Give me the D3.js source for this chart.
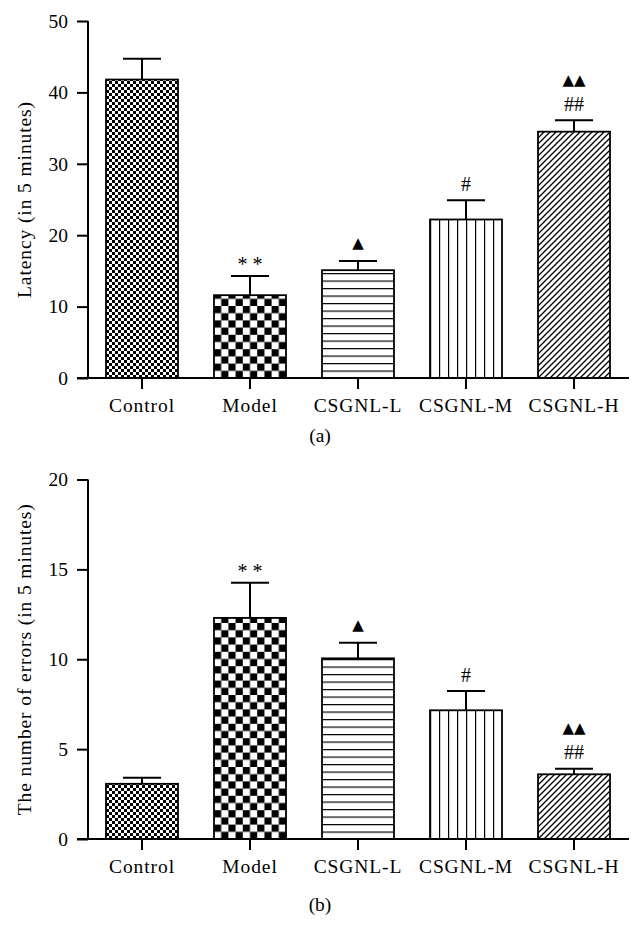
<!DOCTYPE html>
<html><head><meta charset="utf-8">
<script src="https://cdn.jsdelivr.net/npm/d3@7"></script>
<style>
html,body{margin:0;padding:0;background:#fff;}
text{fill:#000;}
</style></head>
<body>
<svg id="chart" width="643" height="949"></svg>
<script>
const categories = ["Control","Model","CSGNL-L","CSGNL-M","CSGNL-H"];
const latencyMeans = [41.8, 11.6, 15.1, 22.2, 34.5];
const latencyErrors = [2.9, 2.7, 1.3, 2.7, 1.6];
const latencyMarks = ["", "* *", "▲", "#", "##|▲▲"];
const latencyTicks = [0, 10, 20, 30, 40, 50];
const errorMeans = [3.07, 12.3, 10.05, 7.16, 3.6];
const errorErrors = [0.34, 1.96, 0.87, 1.07, 0.31];
const errorMarks = ["", "* *", "▲", "#", "##|▲▲"];
const errorTicks = [0, 5, 10, 15, 20];

const SERIF = "Liberation Serif, Times New Roman, serif";
const svg = d3.select("#chart");
const defs = svg.append("defs");

const patternKinds = ["fineChecker","coarseChecker","hlines","vlines","diag"];

function makePattern(id, kind, x0, y0) {
  let p;
  if (kind === "fineChecker") {
    p = defs.append("pattern").attr("id", id).attr("patternUnits","userSpaceOnUse")
      .attr("width",6).attr("height",6).attr("x",x0).attr("y",y0);
    p.append("rect").attr("width",6).attr("height",6).attr("fill","#fff");
    p.append("rect").attr("width",3).attr("height",3).attr("fill","#000");
    p.append("rect").attr("x",3).attr("y",3).attr("width",3).attr("height",3).attr("fill","#000");
  } else if (kind === "coarseChecker") {
    p = defs.append("pattern").attr("id", id).attr("patternUnits","userSpaceOnUse")
      .attr("width",14.4).attr("height",14.4).attr("x",x0).attr("y",y0);
    p.append("rect").attr("width",14.4).attr("height",14.4).attr("fill","#fff");
    p.append("rect").attr("width",7.2).attr("height",7.2).attr("fill","#000");
    p.append("rect").attr("x",7.2).attr("y",7.2).attr("width",7.2).attr("height",7.2).attr("fill","#000");
  } else if (kind === "hlines") {
    p = defs.append("pattern").attr("id", id).attr("patternUnits","userSpaceOnUse")
      .attr("width",10).attr("height",7.5).attr("x",x0).attr("y",y0);
    p.append("rect").attr("width",10).attr("height",7.5).attr("fill","#fff");
    p.append("line").attr("x1",0).attr("x2",10).attr("y1",0).attr("y2",0)
      .attr("stroke","#000").attr("stroke-width",2.4);
  } else if (kind === "vlines") {
    p = defs.append("pattern").attr("id", id).attr("patternUnits","userSpaceOnUse")
      .attr("width",9).attr("height",10).attr("x",x0).attr("y",y0);
    p.append("rect").attr("width",9).attr("height",10).attr("fill","#fff");
    p.append("line").attr("x1",0).attr("x2",0).attr("y1",0).attr("y2",10)
      .attr("stroke","#000").attr("stroke-width",2.4);
  } else {
    p = defs.append("pattern").attr("id", id).attr("patternUnits","userSpaceOnUse")
      .attr("width",6).attr("height",6).attr("x",x0).attr("y",y0);
    p.append("rect").attr("width",6).attr("height",6).attr("fill","#fff");
    p.append("path").attr("d","M0,6L6,0M-1,1L1,-1M5,7L7,5")
      .attr("stroke","#000").attr("stroke-width",1.3);
  }
}

// mark styling: font, size, distance of glyph centre above error cap, baseline offset from glyph centre
const markStyle = {
  "* *": {font: SERIF, size: 20, above: 14, shift: 9.5},
  "#":   {font: SERIF, size: 20, above: 15.5, shift: 6.5},
  "##":  {font: SERIF, size: 20, above: 16, shift: 6.5},
  "▲":   {font: "DejaVu Sans, sans-serif", size: 15, above: 17.5, shift: 5},
  "▲▲":  {font: "DejaVu Sans, sans-serif", size: 15, above: 40.5, shift: 5}
};

function drawPanel(opts) {
  const {means, errs, marks, ticks, yMax, yTop, yBottom, title, panelLabel, labelY, key} = opts;
  const g = svg.append("g");
  const x = d3.scaleBand().domain(categories).range([88, 628]).paddingInner(1/3).paddingOuter(1/6);
  const y = d3.scaleLinear().domain([0, yMax]).range([yBottom, yTop]);

  categories.forEach((c, i) => makePattern(key + i, patternKinds[i], x(c), y(0)));

  const eb = g.append("g").attr("stroke","#000").attr("stroke-width",2);
  categories.forEach((c, i) => {
    const cx = x(c) + x.bandwidth()/2;
    eb.append("line").attr("x1",cx).attr("x2",cx).attr("y1",y(means[i])).attr("y2",y(means[i]+errs[i]));
    eb.append("line").attr("x1",cx-19).attr("x2",cx+19).attr("y1",y(means[i]+errs[i])).attr("y2",y(means[i]+errs[i]));
  });

  g.selectAll("rect.bar").data(categories).enter().append("rect")
    .attr("class","bar")
    .attr("x", d => x(d)).attr("width", x.bandwidth())
    .attr("y", (d,i) => y(means[i])).attr("height", (d,i) => y(0) - y(means[i]))
    .attr("fill", (d,i) => `url(#${key}${i})`)
    .attr("stroke","#000").attr("stroke-width",1.8);

  const yAxis = d3.axisLeft(y).tickValues(ticks).tickSize(11).tickPadding(9).tickFormat(d3.format("d"));
  const ya = g.append("g").attr("transform","translate(88,0)").call(yAxis);
  ya.select(".domain").attr("stroke","#000").attr("stroke-width",2).attr("d",`M0,${yTop}V${yBottom}`);
  ya.selectAll(".tick line").attr("stroke","#000").attr("stroke-width",2);
  ya.selectAll(".tick text").attr("font-size",19.5).attr("font-family",SERIF).attr("fill","#000");

  const xAxis = d3.axisBottom(x).tickSize(11).tickPadding(0).tickSizeOuter(0);
  const xa = g.append("g").attr("transform",`translate(0,${yBottom})`).call(xAxis);
  xa.select(".domain").attr("stroke","#000").attr("stroke-width",2).attr("d","M77,0H629");
  xa.selectAll(".tick line").attr("stroke","#000").attr("stroke-width",2);
  xa.selectAll(".tick text").attr("font-size",19.5).attr("font-family",SERIF)
    .attr("letter-spacing",0.9).attr("fill","#000").attr("dy",null).attr("y",34);

  g.append("text").attr("transform",`translate(31,${(yTop+yBottom)/2}) rotate(-90)`)
    .attr("text-anchor","middle").attr("font-family",SERIF).attr("font-size",19.5)
    .attr("letter-spacing",0.9).text(title);

  g.append("text").attr("x",320).attr("y",labelY).attr("text-anchor","middle")
    .attr("font-family",SERIF).attr("font-size",19.5).text(panelLabel);

  categories.forEach((c, i) => {
    if (!marks[i]) return;
    const cx = x(c) + x.bandwidth()/2;
    const top = y(means[i] + errs[i]);
    marks[i].split("|").forEach(m => {
      const s = markStyle[m];
      g.append("text").attr("x",cx).attr("y",top - s.above + s.shift).attr("text-anchor","middle")
        .attr("font-family", s.font).attr("font-size", s.size).attr("fill","#000")
        .text(m);
    });
  });
}

drawPanel({means: latencyMeans, errs: latencyErrors, marks: latencyMarks, ticks: latencyTicks,
  yMax: 50, yTop: 21, yBottom: 378, title: "Latency (in 5 minutes)", panelLabel: "(a)", labelY: 442, key: "pa"});
drawPanel({means: errorMeans, errs: errorErrors, marks: errorMarks, ticks: errorTicks,
  yMax: 20, yTop: 479.5, yBottom: 839, title: "The number of errors (in 5 minutes)", panelLabel: "(b)", labelY: 911, key: "pb"});
</script>
</body></html>
